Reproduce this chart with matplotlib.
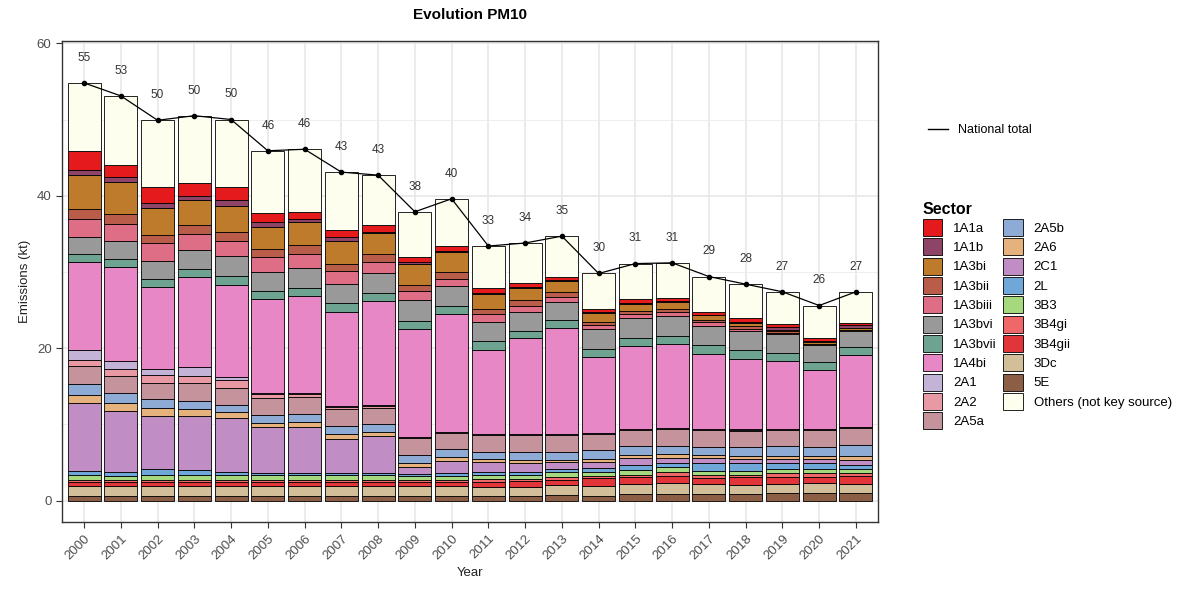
import matplotlib
matplotlib.use("Agg")
import matplotlib.pyplot as plt
from matplotlib.patches import Patch
from matplotlib.lines import Line2D
import numpy as np

plt.rcParams["font.family"] = ["Liberation Sans", "DejaVu Sans"]

# data (kt), one value per year 2000..2021
years = list(range(2000, 2022))

# stacking order: bottom -> top
sectors = ["5E", "3Dc", "3B4gii", "3B4gi", "3B3", "2L", "2C1", "2A6", "2A5b", "2A5a",
           "2A2", "2A1", "1A4bi", "1A3bvii", "1A3bvi", "1A3biii", "1A3bii", "1A3bi",
           "1A1b", "1A1a", "Others (not key source)"]

s_5E = [0.6, 0.6, 0.6, 0.6, 0.6, 0.6, 0.6, 0.6, 0.6, 0.6, 0.6, 0.6, 0.6, 0.7, 0.65, 0.85, 0.85, 0.85, 0.85, 0.95, 0.95, 0.95]
s_3Dc = [1.3, 1.3, 1.3, 1.3, 1.3, 1.3, 1.3, 1.3, 1.3, 1.3, 1.3, 1.25, 1.25, 1.3, 1.3, 1.35, 1.45, 1.3, 1.2, 1.25, 1.35, 1.25]
s_3B4gii = [0.6, 0.55, 0.6, 0.6, 0.6, 0.6, 0.6, 0.6, 0.6, 0.6, 0.6, 0.6, 0.7, 0.75, 1.0, 0.85, 0.9, 0.8, 1.0, 0.95, 0.85, 1.0]
s_3B4gi = [0.2, 0.3, 0.25, 0.25, 0.25, 0.25, 0.25, 0.25, 0.25, 0.25, 0.25, 0.4, 0.35, 0.35, 0.35, 0.35, 0.5, 0.45, 0.35, 0.45, 0.5, 0.4]
s_3B3 = [0.65, 0.55, 0.6, 0.6, 0.6, 0.6, 0.6, 0.6, 0.6, 0.45, 0.45, 0.5, 0.5, 0.6, 0.5, 0.6, 0.65, 0.5, 0.5, 0.5, 0.55, 0.5]
s_2L = [0.55, 0.5, 0.75, 0.65, 0.35, 0.25, 0.25, 0.25, 0.25, 0.25, 0.4, 0.45, 0.4, 0.5, 0.45, 0.7, 0.65, 1.0, 1.0, 0.8, 0.7, 0.6]
s_2C1 = [8.9, 7.9, 7.0, 7.1, 7.1, 6.1, 6.1, 4.5, 4.9, 1.0, 1.6, 1.3, 1.1, 0.85, 0.8, 0.85, 0.6, 0.7, 0.55, 0.55, 0.5, 0.65]
s_2A6 = [1.0, 1.1, 1.0, 0.9, 0.8, 0.5, 0.6, 0.6, 0.5, 0.45, 0.5, 0.3, 0.4, 0.25, 0.45, 0.45, 0.5, 0.4, 0.35, 0.45, 0.4, 0.5]
s_2A5b = [1.5, 1.3, 1.2, 1.1, 1.0, 1.1, 1.1, 1.1, 1.1, 1.1, 1.1, 1.0, 1.1, 1.1, 1.1, 1.15, 1.05, 1.1, 1.3, 1.3, 1.3, 1.45]
s_2A5a = [2.3, 2.2, 2.2, 2.3, 2.2, 2.2, 2.2, 2.2, 2.1, 2.2, 2.05, 2.15, 2.15, 2.15, 2.15, 2.1, 2.2, 2.15, 2.1, 2.05, 2.15, 2.25]
s_2A2 = [0.9, 1.0, 1.0, 0.9, 1.0, 0.45, 0.35, 0.3, 0.2, 0.15, 0.1, 0.1, 0.1, 0.1, 0.1, 0.1, 0.1, 0.1, 0.1, 0.1, 0.1, 0.1]
s_2A1 = [1.3, 1.0, 0.8, 1.2, 0.4, 0.15, 0.15, 0.1, 0.1, 0.05, 0.05, 0.05, 0.05, 0.05, 0.05, 0.05, 0.05, 0.05, 0.05, 0.05, 0.05, 0.05]
s_1A4bi = [11.5, 12.4, 10.7, 11.8, 12.1, 12.3, 12.8, 12.3, 13.7, 14.1, 15.5, 11.1, 12.6, 14.0, 9.9, 10.85, 11.1, 9.9, 9.25, 8.9, 7.8, 9.4]
s_1A3bvii = [1.0, 1.0, 1.1, 1.1, 1.2, 1.1, 1.0, 1.2, 1.0, 1.1, 1.0, 1.2, 0.9, 1.0, 1.1, 1.1, 1.0, 1.1, 1.1, 1.1, 1.0, 1.0]
s_1A3bvi = [2.3, 2.4, 2.4, 2.5, 2.6, 2.5, 2.6, 2.5, 2.7, 2.7, 2.6, 2.4, 2.6, 2.4, 2.6, 2.6, 2.6, 2.5, 2.5, 2.5, 2.2, 2.1]
s_1A3biii = [2.4, 2.2, 2.3, 2.1, 2.0, 1.9, 1.9, 1.7, 1.4, 1.2, 1.0, 1.1, 0.7, 0.6, 0.5, 0.6, 0.6, 0.5, 0.3, 0.15, 0.1, 0.15]
s_1A3bii = [1.3, 1.3, 1.1, 1.2, 1.1, 1.1, 1.1, 1.0, 1.0, 0.8, 0.9, 0.6, 0.8, 0.7, 0.5, 0.35, 0.35, 0.3, 0.35, 0.15, 0.1, 0.1]
s_1A3bi = [4.4, 4.2, 3.5, 3.3, 3.5, 2.9, 3.0, 2.9, 2.8, 2.8, 2.6, 1.95, 1.6, 1.4, 1.15, 0.9, 0.9, 0.6, 0.5, 0.2, 0.2, 0.15]
s_1A1b = [0.7, 0.6, 0.6, 0.5, 0.7, 0.6, 0.5, 0.6, 0.2, 0.2, 0.2, 0.15, 0.15, 0.1, 0.1, 0.1, 0.1, 0.1, 0.1, 0.4, 0.2, 0.4]
s_1A1a = [2.5, 1.6, 2.2, 1.7, 1.8, 1.2, 0.9, 0.9, 0.8, 0.7, 0.6, 0.7, 0.55, 0.5, 0.35, 0.6, 0.45, 0.4, 0.45, 0.4, 0.3, 0.3]
s_others = [8.9, 9.1, 8.7, 8.8, 8.8, 8.2, 8.2, 7.6, 6.6, 5.9, 6.2, 5.5, 5.2, 5.3, 4.7, 4.6, 4.6, 4.6, 4.5, 4.2, 4.3, 4.1]

national_total = [54.8, 53.1, 49.9, 50.5, 50.0, 45.9, 46.1, 43.1, 42.7, 37.9, 39.6, 33.4,
                  33.8, 34.7, 29.8, 31.1, 31.2, 29.4, 28.4, 27.4, 25.6, 27.4]

series = [s_5E, s_3Dc, s_3B4gii, s_3B4gi, s_3B3, s_2L, s_2C1, s_2A6, s_2A5b, s_2A5a,
          s_2A2, s_2A1, s_1A4bi, s_1A3bvii, s_1A3bvi, s_1A3biii, s_1A3bii, s_1A3bi,
          s_1A1b, s_1A1a, s_others]

colors = {
    "1A1a": "#E41A1C", "1A1b": "#8E4466", "1A3bi": "#BF7B2C", "1A3bii": "#B95C49",
    "1A3biii": "#DE6E86", "1A3bvi": "#999999", "1A3bvii": "#6FA391", "1A4bi": "#E787C5",
    "2A1": "#C3B3D6", "2A2": "#E899A3", "2A5a": "#C4939C", "2A5b": "#8DABD5",
    "2A6": "#E5B27E", "2C1": "#C08EC5", "2L": "#6FA8D8", "3B3": "#A6D97E",
    "3B4gi": "#F0676A", "3B4gii": "#E2353A", "3Dc": "#D2BE98", "5E": "#8C5E46",
    "Others (not key source)": "#FEFEEE",
}

x = np.arange(len(years))

fig = plt.figure(figsize=(11.84, 5.9), dpi=100)
ax = fig.add_axes([62 / 1184, 1 - 522 / 590, (878 - 62) / 1184, (522 - 41) / 590])

bottom = np.zeros(len(years))
for name, vals in zip(sectors, series):
    vals = np.array(vals)
    ax.bar(x, vals, bottom=bottom, width=0.9, color=colors[name],
           edgecolor="black", linewidth=0.6, zorder=2)
    bottom += vals

ax.plot(x, national_total, color="black", linewidth=0.9, marker="o", markersize=3, zorder=3)
for xi, v in zip(x, national_total):
    ax.text(xi, v + 3.3, f"{v:.0f}", ha="center", va="center", fontsize=8.5, color="#333333")

ax.set_xlim(-0.6, len(years) - 0.4)
ax.set_ylim(-2.8, 60.3)
ax.set_yticks([0, 20, 40, 60])
ax.set_yticks([10, 30, 50], minor=True)
ax.set_xticks(x)
ax.set_xticklabels([str(y) for y in years], rotation=45, ha="right", rotation_mode="anchor")
ax.tick_params(axis="both", labelsize=9.5, labelcolor="#4D4D4D", color="#333333", length=4)
ax.tick_params(axis="y", which="minor", length=0)
ax.grid(True, which="major", color="#E6E6E6", linewidth=1.1, zorder=0)
ax.grid(True, which="minor", axis="y", color="#EBEBEB", linewidth=0.6, zorder=0)
ax.set_axisbelow(True)
for sp in ax.spines.values():
    sp.set_color("#333333")
    sp.set_linewidth(1.0)

ax.set_xlabel("Year", fontsize=9.5, color="#222222")
ax.set_ylabel("Emissions (kt)", fontsize=9.5, color="#222222")
ax.set_title("Evolution PM10", fontsize=11, fontweight="bold", pad=16)

# national total legend
line_handle = [Line2D([0], [0], color="black", linewidth=1.0)]
fig.legend(line_handle, ["National total"], loc="upper left",
           bbox_to_anchor=(922 / 1184, 1 - 118 / 590), frameon=False, fontsize=9,
           handlelength=1.6, handletextpad=0.8, borderpad=0)

# sector legend: legend order is top -> bottom of the stack, Others last
legend_names = sectors[:-1][::-1] + [sectors[-1]]
handles = [Patch(facecolor=colors[n], edgecolor="black", linewidth=0.6) for n in legend_names]
leg = fig.legend(handles, legend_names, loc="upper left", ncol=2,
                 bbox_to_anchor=(916 / 1184, 1 - 195 / 590), frameon=False, fontsize=9.5,
                 title="Sector", title_fontproperties={"weight": "bold", "size": 11.5},
                 alignment="left", handlelength=1.5, handleheight=1.6,
                 handletextpad=0.8, labelspacing=0.18, columnspacing=0.5, borderpad=0)

fig.savefig("out.png", dpi=100)
